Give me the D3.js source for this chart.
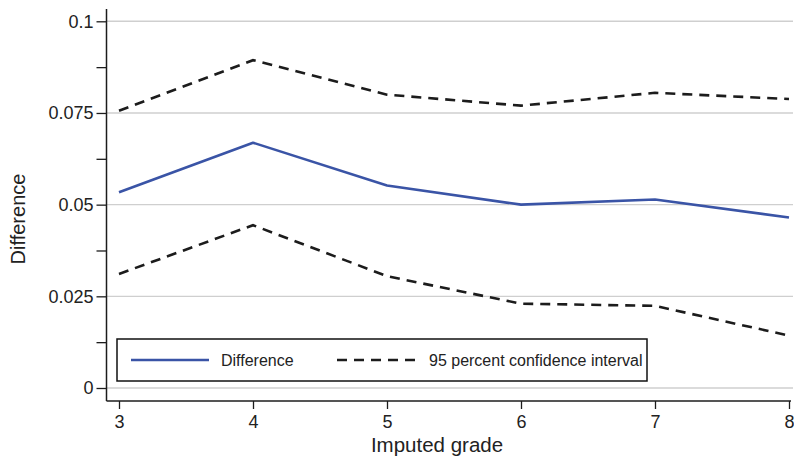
<!DOCTYPE html>
<html>
<head>
<meta charset="utf-8">
<script src="https://cdn.jsdelivr.net/npm/d3@7"></script>
<style>
  html, body { margin: 0; padding: 0; background: #fff; }
  svg { display: block; font-family: "Liberation Sans", Arial, Helvetica, sans-serif; }
</style>
</head>
<body>
<svg id="chart" width="794" height="458"></svg>
<script>
// Estimated difference by imputed grade, with its 95% confidence band
const grades = [3, 4, 5, 6, 7, 8];
const difference = [0.0534, 0.0669, 0.0552, 0.0500, 0.0514, 0.0465];
const upperCI = [0.0756, 0.0894, 0.0800, 0.0770, 0.0805, 0.0788];
const lowerCI = [0.0311, 0.0444, 0.0305, 0.0230, 0.0224, 0.0143];

const yMajorTicks = [0, 0.025, 0.05, 0.075, 0.1];
const yMinorTicks = [0.0125, 0.0375, 0.0625, 0.0875];
const yTickLabels = ["0", "0.025", "0.05", "0.075", "0.1"];
const xTickLabels = ["3", "4", "5", "6", "7", "8"];

const legendLabels = ["Difference", "95 percent confidence interval"];

const svg = d3.select("#chart");
const textColor = "#222";
const blue = "#3a54a6";
const dark = "#1c1c1c";
const dash = "10,7";

const plot = { left: 106.5, right: 791, top: 9, bottom: 401 };

const x = d3.scaleLinear().domain([3, 8]).range([119, 789]);
const y = d3.scaleLinear().domain([0, 0.1]).range([388, 21.3]);

// horizontal grid at labelled ticks
svg.append("g")
  .selectAll("line")
  .data(yMajorTicks)
  .join("line")
  .attr("x1", plot.left)
  .attr("x2", 793)
  .attr("y1", d => y(d))
  .attr("y2", d => y(d))
  .attr("stroke", "#cfcfcf")
  .attr("stroke-width", 1.4);

// y axis: all ticks, labels on the major ones
const yAxis = d3.axisLeft(y)
  .tickValues(yMajorTicks.concat(yMinorTicks))
  .tickSize(10)
  .tickPadding(3)
  .tickFormat(d => {
    const i = yMajorTicks.indexOf(d);
    return i >= 0 ? yTickLabels[i] : "";
  });

const gy = svg.append("g")
  .attr("transform", `translate(${plot.left},0)`)
  .call(yAxis);
gy.select(".domain").remove();
gy.selectAll(".tick line").attr("stroke", dark).attr("stroke-width", 1.3);
gy.selectAll(".tick text").attr("fill", textColor).attr("font-size", 18)
  .attr("font-family", "'Liberation Sans', Arial, sans-serif");

// x axis
const xAxis = d3.axisBottom(x)
  .tickValues(grades)
  .tickSize(8)
  .tickPadding(6)
  .tickFormat((d, i) => xTickLabels[i]);

const gx = svg.append("g")
  .attr("transform", `translate(0,${plot.bottom})`)
  .call(xAxis);
gx.select(".domain").remove();
gx.selectAll(".tick line").attr("stroke", dark).attr("stroke-width", 1.3);
gx.selectAll(".tick text").attr("fill", textColor).attr("font-size", 18)
  .attr("font-family", "'Liberation Sans', Arial, sans-serif");

// axis lines
svg.append("line")
  .attr("x1", plot.left).attr("x2", plot.left)
  .attr("y1", plot.top).attr("y2", plot.bottom)
  .attr("stroke", dark).attr("stroke-width", 1.5);
svg.append("line")
  .attr("x1", plot.left).attr("x2", plot.right)
  .attr("y1", plot.bottom).attr("y2", plot.bottom)
  .attr("stroke", dark).attr("stroke-width", 1.5);

// series
const line = d3.line().x((d, i) => x(grades[i])).y(d => y(d));

svg.append("path")
  .datum(upperCI)
  .attr("d", line)
  .attr("fill", "none")
  .attr("stroke", dark)
  .attr("stroke-width", 2.6)
  .attr("stroke-dasharray", dash);

svg.append("path")
  .datum(lowerCI)
  .attr("d", line)
  .attr("fill", "none")
  .attr("stroke", dark)
  .attr("stroke-width", 2.6)
  .attr("stroke-dasharray", dash);

svg.append("path")
  .datum(difference)
  .attr("d", line)
  .attr("fill", "none")
  .attr("stroke", blue)
  .attr("stroke-width", 2.6)
  .attr("stroke-linejoin", "round");

// legend
const lg = svg.append("g");
lg.append("rect")
  .attr("x", 117).attr("y", 339)
  .attr("width", 530).attr("height", 42)
  .attr("fill", "#fff")
  .attr("stroke", "#111")
  .attr("stroke-width", 1.5);

lg.append("line")
  .attr("x1", 131).attr("x2", 209).attr("y1", 360).attr("y2", 360)
  .attr("stroke", blue).attr("stroke-width", 2.6);
lg.append("text")
  .attr("x", 221).attr("y", 366)
  .attr("font-size", 16).attr("fill", textColor)
  .text(legendLabels[0]);

lg.append("line")
  .attr("x1", 337).attr("x2", 416).attr("y1", 360).attr("y2", 360)
  .attr("stroke", dark).attr("stroke-width", 2.6)
  .attr("stroke-dasharray", dash);
lg.append("text")
  .attr("x", 429).attr("y", 366)
  .attr("font-size", 16).attr("fill", textColor)
  .text(legendLabels[1]);

// axis titles
svg.append("text")
  .attr("x", 437).attr("y", 452)
  .attr("text-anchor", "middle")
  .attr("font-size", 20.5).attr("fill", textColor)
  .text("Imputed grade");

svg.append("text")
  .attr("transform", "translate(25,219) rotate(-90)")
  .attr("text-anchor", "middle")
  .attr("font-size", 20).attr("fill", textColor)
  .text("Difference");
</script>
</body>
</html>
